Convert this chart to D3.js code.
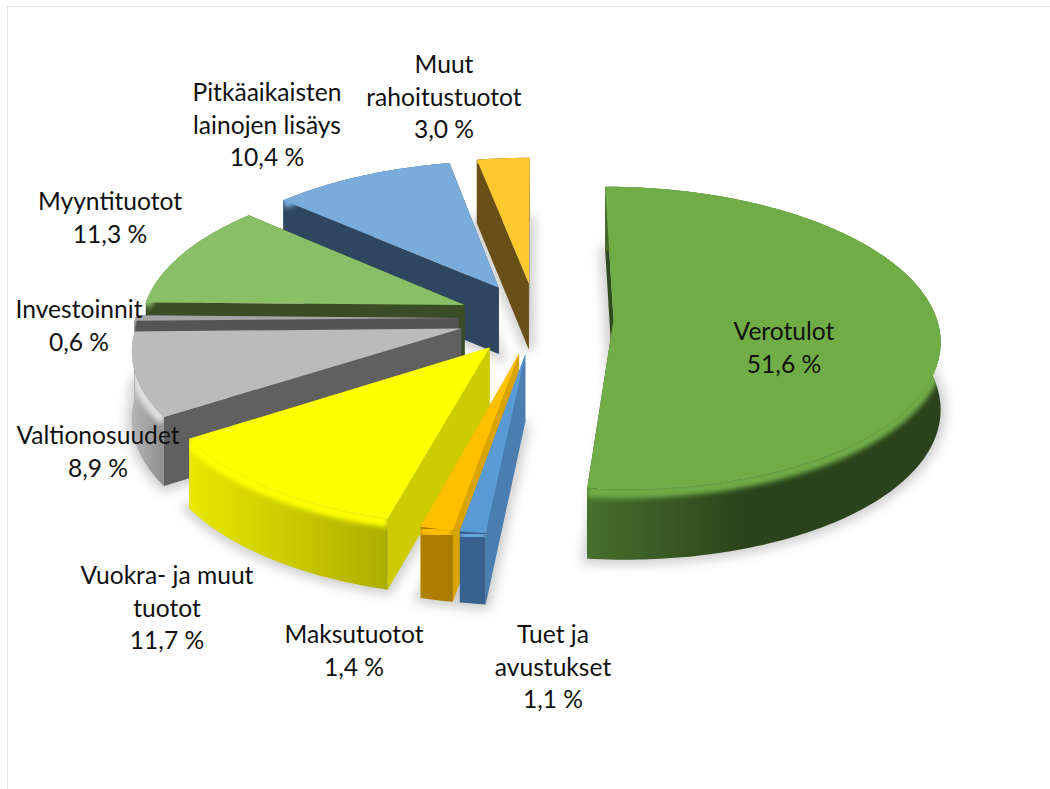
<!DOCTYPE html>
<html>
<head>
<meta charset="utf-8">
<script src="https://cdn.jsdelivr.net/npm/d3@7"></script>
<style>
html, body { margin: 0; padding: 0; background: #fff; }
text { font-family: Lato, "Open Sans", sans-serif; font-size: 24.6px; fill: #111; }
</style>
</head>
<body>
<div id="main"></div>
<script>
var categories = ["Verotulot", "Tuet ja avustukset", "Maksutuotot", "Vuokra- ja muut tuotot", "Valtionosuudet",
  "Investoinnit", "Myyntituotot", "Pitkäaikaisten lainojen lisäys", "Muut rahoitustuotot"];
var values = [51.6, 1.1, 1.4, 11.7, 8.9, 0.6, 11.3, 10.4, 3.0];

// how the category names wrap in the labels
var labelLines = [["Verotulot"], ["Tuet ja", "avustukset"], ["Maksutuotot"], ["Vuokra- ja muut", "tuotot"], ["Valtionosuudet"],
  ["Investoinnit"], ["Myyntituotot"], ["Pitkäaikaisten", "lainojen lisäys"], ["Muut", "rahoitustuotot"]];

// colours, same order as categories
var topColors = ["#70ad47", "#5b9bd5", "#ffc000", "#ffff00", "#bbbbbb", "#a5a5a5", "#8abf68", "#79acdb", "#fdc92f"];
var faceColors = ["#2f4a1e", "#4a7eb0", "#d9a300", "#cccc00", "#606060", "#555555", "#3a4d26", "#2f4660", "#685018"];
var wallLeft = ["#47702d", "#39618f", "#b08000", "#e8e800", "#b4b4b4", "#777777", "#3a4d26", "#2f4660", "#685018"];
var wallRight = ["#2b431c", "#39618f", "#a87a00", "#adad00", "#8f8f8f", "#555555", "#3a4d26", "#2f4660", "#685018"];
var rimColors = ["#70ad47", "#6ba8df", "#ffc000", "#ffff00", "#dedede", "#a5a5a5", "#8abf68", "#79acdb", "#fdc92f"];

// label layout: centre x and y of the first line
var labelX = [784, 553, 354, 167, 98, 79, 110, 267, 444];
var labelY = [332, 635, 635, 576, 436, 310, 202, 93, 65];
var lineHeight = 32.5;

var width = 1050, height = 789;
var cx = 536, cy = 318;
var radius = 323, tilt = 0.46, persp = 0.12;
var explode = 0.24, depth = 67;

var svg = d3.select("#main").append("svg")
    .attr("width", width)
    .attr("height", height)
    .style("display", "block");

var defs = svg.append("defs");
defs.append("filter").attr("id", "soft")
    .attr("x", "-20%").attr("y", "-20%").attr("width", "140%").attr("height", "140%")
    .append("feGaussianBlur").attr("stdDeviation", 6);
defs.append("filter").attr("id", "rimblur")
    .attr("x", "-5%").attr("y", "-20%").attr("width", "110%").attr("height", "140%")
    .append("feGaussianBlur").attr("stdDeviation", 2.4);

// chart frame, only top and left show in the picture
svg.append("line").attr("x1", 7).attr("x2", width).attr("y1", 6.5).attr("y2", 6.5).attr("stroke", "#e2e2e2");
svg.append("line").attr("x1", 7.5).attr("x2", 7.5).attr("y1", 6).attr("y2", height).attr("stroke", "#e2e2e2");

var pie = d3.pie().sort(null).value(function(d) { return d; });
var slices = pie(values);

var project = function(x, y, z) {
  var w = 1 + persp * y;
  return [cx + radius * x / w, cy - tilt * radius * y / w + z * depth / Math.pow(w, 0.4)];
};

var apex = function(d, z) {
  var mid = (d.startAngle + d.endAngle) / 2;
  return project(explode * Math.sin(mid), explode * Math.cos(mid), z);
};

var arcPoints = function(d, z) {
  var mid = (d.startAngle + d.endAngle) / 2;
  var n = Math.max(2, Math.ceil((d.endAngle - d.startAngle) / 0.02));
  return d3.range(n + 1).map(function(i) {
    var a = d.startAngle + (d.endAngle - d.startAngle) * i / n;
    return project(Math.sin(a) + explode * Math.sin(mid), Math.cos(a) + explode * Math.cos(mid), z);
  });
};

var line = d3.line();
var shut = function(pts) { return line(pts) + "Z"; };

var topPath = function(d, z) { return shut([apex(d, z)].concat(arcPoints(d, z))); };
var wallPath = function(d) { return shut(arcPoints(d, 0).concat(arcPoints(d, 1).reverse())); };
var facePath = function(d, a) {
  var pts0 = arcPoints(d, 0), pts1 = arcPoints(d, 1);
  var k = a == "start" ? 0 : pts0.length - 1;
  return shut([apex(d, 0), pts0[k], pts1[k], apex(d, 1)]);
};

// soft shadow on the floor under every slice
svg.append("g").attr("filter", "url(#soft)").attr("opacity", 0.2)
  .selectAll("path").data(slices).enter().append("path")
    .attr("d", function(d) { return topPath(d, 1); })
    .attr("fill", "#000")
    .attr("stroke", "#000")
    .attr("stroke-width", 10);

slices.forEach(function(d, i) {
  var grad = defs.append("linearGradient").attr("id", "wall" + i);
  grad.append("stop").attr("offset", "0%").attr("stop-color", wallLeft[i]);
  grad.append("stop").attr("offset", i == 0 ? "45%" : "100%").attr("stop-color", wallRight[i]);
  defs.append("clipPath").attr("id", "clip" + i).append("path").attr("d", wallPath(d));
});

// paint from the back of the pie to the front, the big slice last
var drawOrder = [8, 7, 6, 5, 4, 3, 2, 1, 0];

drawOrder.forEach(function(i) {
  var d = slices[i];
  var g = svg.append("g").attr("class", "slice");
  g.append("path").attr("d", facePath(d, "end")).attr("fill", faceColors[i]);
  g.append("path").attr("d", facePath(d, "start")).attr("fill", faceColors[i]);
  g.append("path").attr("d", wallPath(d)).attr("fill", "url(#wall" + i + ")");
  g.append("g").attr("clip-path", "url(#clip" + i + ")")
    .append("path")
    .attr("d", line(arcPoints(d, 0.05)))
    .attr("fill", "none")
    .attr("stroke", rimColors[i])
    .attr("stroke-width", 11)
    .attr("filter", "url(#rimblur)");
  g.append("path").attr("d", topPath(d, 0)).attr("fill", topColors[i]);
});

var pct = function(v) { return v.toFixed(1).replace(".", ",") + " %"; };

var labels = svg.append("g").selectAll("text")
    .data(categories).enter().append("text")
    .attr("text-anchor", "middle")
    .attr("transform", function(d, i) { return "translate(" + labelX[i] + "," + labelY[i] + ")"; });

labels.selectAll("tspan")
    .data(function(d, i) { return labelLines[i].concat([pct(values[i])]); })
    .enter().append("tspan")
    .attr("x", 0)
    .attr("y", function(d, i) { return i * lineHeight + 8; })
    .text(function(d) { return d; });
</script>
</body>
</html>
